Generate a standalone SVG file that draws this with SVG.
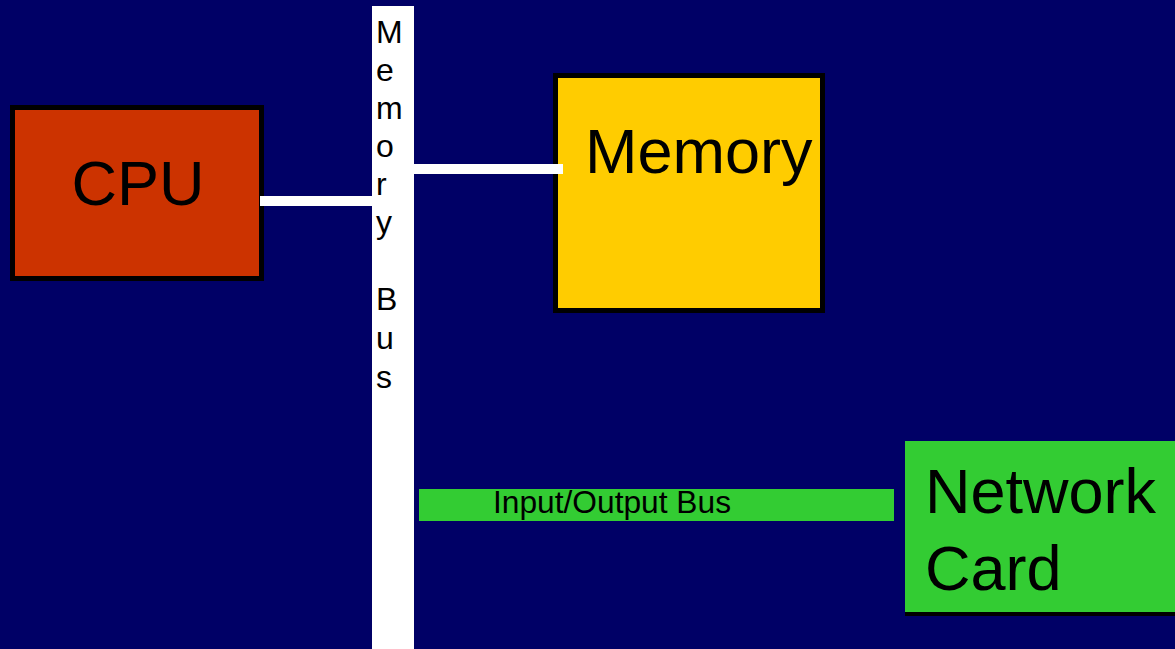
<svg xmlns="http://www.w3.org/2000/svg" width="1175" height="649" viewBox="0 0 1175 649">
  <style>
    .lbl { font-family: "Liberation Sans", Arial, sans-serif; fill: #000000; }
    .big { font-size: 63px; }
    .bus { font-size: 32px; }
    .wire { fill: #ffffff; }
  </style>
  <!-- background -->
  <rect x="0" y="0" width="1175" height="649" fill="#000066"/>

  <!-- memory bus: vertical white bar with stacked letters -->
  <g id="memory-bus">
    <rect x="372" y="6" width="42" height="643" fill="#ffffff"/>
    <g class="lbl bus">
      <text x="376" y="43">M</text>
      <text x="376" y="81">e</text>
      <text x="376" y="119">m</text>
      <text x="376" y="157">o</text>
      <text x="376" y="195">r</text>
      <text x="376" y="233">y</text>
      <text x="376" y="310">B</text>
      <text x="376" y="349">u</text>
      <text x="376" y="388">s</text>
    </g>
  </g>

  <!-- CPU -->
  <g id="cpu">
    <rect x="12.5" y="107.5" width="249" height="171" fill="#cc3300" stroke="#000000" stroke-width="5"/>
    <text class="lbl big" x="138" y="205" text-anchor="middle">CPU</text>
  </g>

  <!-- Memory -->
  <g id="memory">
    <rect x="555.5" y="75.5" width="267" height="235" fill="#ffcc00" stroke="#000000" stroke-width="5"/>
    <text class="lbl big" x="585" y="173">Memory</text>
  </g>

  <!-- Input/Output bus -->
  <g id="io-bus">
    <rect x="419" y="489" width="475" height="32" fill="#33cc33"/>
    <text class="lbl bus" x="493" y="513" textLength="238" lengthAdjust="spacingAndGlyphs">Input/Output Bus</text>
  </g>

  <!-- Network card -->
  <g id="network-card">
    <rect x="905" y="445" width="270" height="171" fill="#000000"/>
    <rect x="905" y="441" width="270" height="171" fill="#33cc33"/>
    <text class="lbl big" x="925" y="513">Network</text>
    <text class="lbl big" x="925" y="590">Card</text>
  </g>

  <!-- connectors: white links from the bus to CPU and Memory -->
  <g id="connectors">
    <rect class="wire" x="260" y="196" width="112" height="10"/>
    <rect class="wire" x="414" y="164" width="149" height="10"/>
  </g>
</svg>
